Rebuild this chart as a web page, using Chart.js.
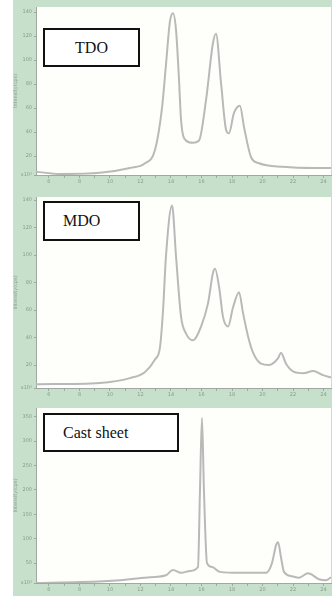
<!DOCTYPE html>
<html>
<head>
<meta charset="utf-8">
<script src="https://cdn.jsdelivr.net/npm/chart.js@4"></script>
<style>
    body { margin: 0; width: 332px; height: 596px; overflow: hidden; background: #c6e0cc; position: relative; }
    #strip { position: absolute; left: 0; top: 0; width: 13px; height: 596px; background: #fff; }
    canvas { position: absolute; }
    .tag {
        position: absolute; box-sizing: border-box; border: 2px solid #111; background: #fff;
        font-family: 'Liberation Serif', serif; font-size: 16px; color: #111;
        display: flex; align-items: center;
    }
</style>
</head>
<body>
<div id="strip"></div>
<canvas id="c1" width="319" height="190" style="left:13px; top:0px;"></canvas>
<canvas id="c2" width="319" height="213" style="left:13px; top:190px;"></canvas>
<canvas id="c3" width="319" height="193" style="left:13px; top:403px;"></canvas>
<div class="tag" style="left:43px; top:28px; width:97px; height:39px; justify-content:center;">TDO</div>
<div class="tag" style="left:43px; top:201px; width:97px; height:40px; padding-left:18px;">MDO</div>
<div class="tag" style="left:43px; top:413px; width:136px; height:39px; padding-left:18px;">Cast sheet</div>
<script>
// 2-theta (deg) and intensity
const tdoAngle = [5.15, 6.72, 9.34, 11.31, 12.30, 12.95, 13.41, 13.67, 13.93, 14.13, 14.33, 14.52, 14.66, 14.98, 15.44, 15.84, 16.30, 16.75, 16.95, 17.28, 17.61, 17.80, 18.13, 18.52, 18.79, 19.25, 19.77, 21.34, 23.51, 24.49];
const tdoIntensity = [7, 5, 6, 10, 14, 25, 60, 96, 132, 139, 125, 85, 50, 33, 31, 33, 67, 114, 122, 81, 42, 39, 56, 62, 44, 19, 14, 11, 10, 10];

const mdoAngle = [5.15, 9.34, 11.31, 12.30, 12.95, 13.28, 13.48, 13.67, 14.07, 14.33, 14.66, 14.98, 15.44, 15.97, 16.43, 16.75, 16.89, 17.15, 17.41, 17.74, 18.07, 18.46, 18.72, 19.05, 19.38, 19.90, 20.43, 21.02, 21.21, 21.54, 22.07, 22.66, 23.31, 23.97, 24.49];
const mdoIntensity = [6, 7, 10.5, 15, 24, 33, 60, 99, 136, 99, 55, 43, 38, 48, 65, 87, 90, 77, 55, 48, 62, 73, 58, 41, 29, 21, 20, 25, 29, 21, 15, 14, 15.6, 12.7, 11];

const castAngle = [5.15, 8.03, 10.66, 12.62, 13.67, 14.13, 14.66, 15.25, 15.77, 15.90, 16.03, 16.16, 16.36, 16.69, 17.21, 18.52, 20.23, 20.62, 20.89, 21.02, 21.21, 21.41, 21.93, 22.39, 22.98, 23.70, 24.16, 24.49];
const castIntensity = [9, 11, 15, 21, 25, 36, 30, 34, 42, 199, 348, 199, 50, 42, 32, 30, 30, 50, 87, 93, 62, 32, 23, 20, 29, 17, 15, 21];

const xTicks = [6, 7, 8, 9, 10, 11, 12, 13, 14, 15, 16, 17, 18, 19, 20, 21, 22, 23, 24];
const yTicksFilm = [20, 40, 60, 80, 100, 120, 140];
const yTicksCast = [50, 100, 150, 200, 250, 300, 350];

const TICK_COLOR = '#8a9a8e';
const AXIS_COLOR = '#a0a8a2';

// white plot area on the green frame
const plotBg = {
    id: 'plotBg',
    beforeDraw(chart) {
        const a = chart.chartArea;
        const ctx = chart.ctx;
        ctx.save();
        ctx.fillStyle = '#fefefb';
        ctx.fillRect(a.left, a.top, a.right - a.left, a.bottom - a.top);
        ctx.restore();
    }
};

function makeChart(id, angles, values, yMin, yMax, yTicks, padTop, xHeight) {
    const ctx = document.getElementById(id).getContext('2d');
    return new Chart(ctx, {
        type: 'line',
        data: {
            datasets: [{
                data: angles.map((a, i) => ({ x: a, y: values[i] })),
                borderColor: '#b9b9b9',
                borderWidth: 2,
                pointRadius: 0,
                cubicInterpolationMode: 'monotone',
                fill: false
            }]
        },
        options: {
            responsive: false,
            animation: false,
            layout: { padding: { top: padTop, right: 1 } },
            plugins: { legend: { display: false }, tooltip: { enabled: false } },
            scales: {
                x: {
                    type: 'linear',
                    min: 5.15,
                    max: 24.49,
                    afterFit: s => { s.height = xHeight; },
                    afterBuildTicks: s => { s.ticks = xTicks.map(v => ({ value: v })); },
                    ticks: {
                        autoSkip: false,
                        maxRotation: 0,
                        padding: 1,
                        color: TICK_COLOR,
                        font: { size: 5, family: 'DejaVu Sans' },
                        callback: v => (v % 2 === 0 ? String(v) : '')
                    },
                    grid: { drawOnChartArea: false, tickLength: 3, color: AXIS_COLOR },
                    border: { color: AXIS_COLOR }
                },
                y: {
                    min: yMin,
                    max: yMax,
                    afterFit: s => { s.width = 23; },
                    afterBuildTicks: s => { s.ticks = [yMin].concat(yTicks).map(v => ({ value: v })); },
                    ticks: {
                        autoSkip: false,
                        padding: 2,
                        color: TICK_COLOR,
                        font: { size: 5, family: 'DejaVu Sans' },
                        callback: v => (v === yMin ? 'x10³' : String(v))
                    },
                    title: {
                        display: true,
                        text: 'Intensity(cps)',
                        color: TICK_COLOR,
                        padding: 0,
                        font: { size: 5, family: 'DejaVu Sans' }
                    },
                    grid: { drawOnChartArea: false, tickLength: 2, color: AXIS_COLOR },
                    border: { color: AXIS_COLOR }
                }
            }
        },
        plugins: [plotBg]
    });
}

makeChart('c1', tdoAngle, tdoIntensity, 4.2, 144.2, yTicksFilm, 7, 15);
makeChart('c2', mdoAngle, mdoIntensity, 3.3, 142.2, yTicksFilm, 7, 15);
makeChart('c3', castAngle, castIntensity, 9.2, 368, yTicksCast, 4, 13);
</script>
</body>
</html>
